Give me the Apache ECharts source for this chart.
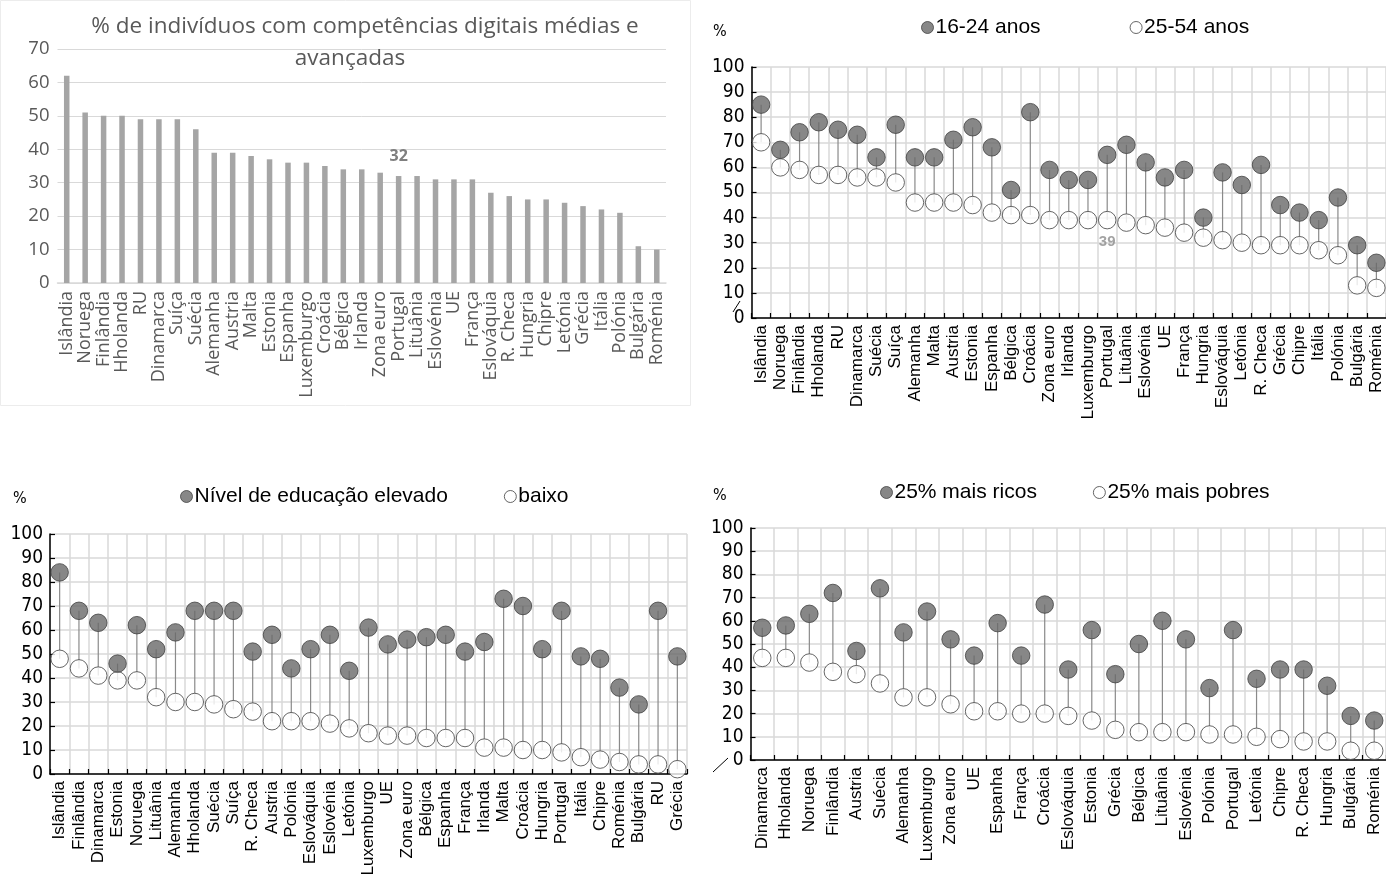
<!DOCTYPE html>
<html>
<head>
<meta charset="utf-8">
<script src="https://cdn.jsdelivr.net/npm/echarts@6/dist/echarts.min.js"></script>
<style>
html,body{margin:0;padding:0;background:#fff;}
#chart{width:1386px;height:884px;}
</style>
</head>
<body>
<div id="chart"></div>
<script>
// ---------- Panel 1: % de indivíduos com competências digitais médias e avançadas
const p1Categories = ['Islândia','Noruega','Finlândia','Hholanda','RU','Dinamarca','Suíça','Suécia','Alemanha','Austria','Malta','Estonia','Espanha','Luxemburgo','Croácia','Bélgica','Irlanda','Zona euro','Portugal','Lituânia','Eslovénia','UE','França','Eslováquia','R. Checa','Hungria','Chipre','Letónia','Grécia','Itália','Polónia','Bulgária','Roménia'];
const p1Values = [62,51,50,50,49,49,49,46,39,39,38,37,36,36,35,34,34,33,32,32,31,31,31,27,26,25,25,24,23,22,21,11,10];
const p1Title = ['% de indivíduos com competências digitais médias e', 'avançadas'];
const p1Highlight = 'Portugal';
const p1YTicks = [0,10,20,30,40,50,60,70];

// ---------- Panel 2: idade
const p2Categories = ['Islândia','Noruega','Finlândia','Hholanda','RU','Dinamarca','Suécia','Suíça','Alemanha','Malta','Austria','Estonia','Espanha','Bélgica','Croácia','Zona euro','Irlanda','Luxemburgo','Portugal','Lituânia','Eslovénia','UE','França','Hungria','Eslováquia','Letónia','R. Checa','Grécia','Chipre','Itália','Polónia','Bulgária','Roménia'];
const p2Young = [85,67,74,78,75,73,64,77,64,64,71,76,68,51,82,59,55,55,65,69,62,56,59,40,58,53,61,45,42,39,48,29,22];
const p2Adult = [70,60,59,57,57,56,56,54,46,46,46,45,42,41,41,39,39,39,39,38,37,36,34,32,31,30,29,29,29,27,25,13,12];
const p2Names = ['16-24 anos','25-54 anos'];

// ---------- Panel 3: educação
const p3Categories = ['Islândia','Finlândia','Dinamarca','Estonia','Noruega','Lituânia','Alemanha','Hholanda','Suécia','Suíça','R. Checa','Austria','Polónia','Eslováquia','Eslovénia','Letónia','Luxemburgo','UE','Zona euro','Bélgica','Espanha','França','Irlanda','Malta','Croácia','Hungria','Portugal','Itália','Chipre','Roménia','Bulgária','RU','Grécia'];
const p3High = [84,68,63,46,62,52,59,68,68,68,51,58,44,52,58,43,61,54,56,57,58,51,55,73,70,52,68,49,48,36,29,68,49];
const p3Low = [48,44,41,39,39,32,30,30,29,27,26,22,22,22,21,19,17,16,16,15,15,15,11,11,10,10,9,7,6,5,4,4,2];
const p3Names = ['Nível de educação elevado','baixo'];

// ---------- Panel 4: rendimento
const p4Categories = ['Dinamarca','Hholanda','Noruega','Finlândia','Austria','Suécia','Alemanha','Luxemburgo','Zona euro','UE','Espanha','França','Croácia','Eslováquia','Estonia','Grécia','Bélgica','Lituânia','Eslovénia','Polónia','Portugal','Letónia','Chipre','R. Checa','Hungria','Bulgária','Roménia'];
const p4Rich = [57,58,63,72,47,74,55,64,52,45,59,45,67,39,56,37,50,60,52,31,56,35,39,39,32,19,17];
const p4Poor = [44,44,42,38,37,33,27,27,24,21,21,20,20,19,17,13,12,12,12,11,11,10,9,8,8,4,4];
const p4Names = ['25% mais ricos','25% mais pobres'];

const pctTicks = [0,10,20,30,40,50,60,70,80,90,100];

// ---------- styles
const ARIAL = 'Liberation Sans, Arial, sans-serif';
const NARROW = 'Liberation Sans Narrow, DejaVu Sans Condensed, sans-serif';
const OPEN = 'Open Sans, sans-serif';
const GRIDC = '#d9d9d9';
const FILL = '#696969';
const FILLB = '#404040';
const OPENB = '#404040';

const chart = echarts.init(document.getElementById('chart'), null, {renderer:'canvas'});

const grids = [
  {left:57.5, top:49, width:608.5, height:234},
  {left:751.5, top:67, width:634.5, height:251},
  {left:50, top:534, width:637, height:240},
  {left:750.5, top:528, width:638.5, height:232}
];

function lollipopX(idx, cats){
  return {
    type:'category', gridIndex:idx, data:cats, boundaryGap:true,
    axisLine:{show:true, lineStyle:{color:'#000', width:1.5}},
    axisTick:{show:true, inside:true, length:5, alignWithLabel:false, interval:0, lineStyle:{color:'#000', width:1.2}},
    axisLabel:{interval:0, rotate:90, margin:7, fontFamily:ARIAL, fontSize:17, color:'#000'},
    splitLine:{show:true, interval:0, lineStyle:{color:GRIDC, width:1.5}}
  };
}
function lollipopY(idx){
  return {
    type:'value', gridIndex:idx, min:0, max:100, interval:10,
    axisLine:{show:true, lineStyle:{color:'#000', width:1.5}},
    axisTick:{show:true, inside:true, length:5, lineStyle:{color:'#000', width:1.2}},
    axisLabel:{margin:7, fontFamily:NARROW, fontSize:19, color:'#000',
      formatter:(v)=> pctTicks.indexOf(v) >= 0 ? String(v) : ''},
    splitLine:{show:true, lineStyle:{color:GRIDC, width:1.5}}
  };
}
function connector(idx, cats, hi, lo){
  return {
    type:'custom', xAxisIndex:idx, yAxisIndex:idx, z:1, silent:true,
    data: cats.map((c,i)=>[i, hi[i], lo[i]]),
    renderItem:(params, api)=>{
      const a = api.coord([api.value(0), api.value(1)]);
      const b = api.coord([api.value(0), api.value(2)]);
      return {type:'line', shape:{x1:a[0], y1:a[1], x2:b[0], y2:b[1]},
        style:{stroke:'#8a8a8a', lineWidth:1.2}};
    }
  };
}
function dots(idx, name, vals, filled, labelIdx, labelOpt){
  return {
    type:'scatter', name:name, xAxisIndex:idx, yAxisIndex:idx, z:filled?4:3,
    symbol:'circle', symbolSize:17.5, clip:false,
    itemStyle: filled ? {color:FILL, borderColor:FILLB, borderWidth:1}
                      : {color:'#fff', borderColor:OPENB, borderWidth:1},
    data: vals.map((v,i)=> (labelIdx === i) ? {value:v, label:labelOpt} : v)
  };
}
function legendFor(names, left, top, gap){
  return {
    data:names, left:left, top:top, orient:'horizontal', itemGap:gap,
    icon:'circle', itemWidth:12, itemHeight:12, itemStyle:{borderWidth:1},
    textStyle:{fontFamily:ARIAL, fontSize:21, color:'#000', padding:[0,0,0,-3]},
    selectedMode:false
  };
}

const p1HighIdx = p1Categories.indexOf(p1Highlight);
const p2HighIdx = p2Categories.indexOf('Portugal');

const option = {
  animation:false,
  backgroundColor:'#fff',
  title:[
    {text:p1Title[0], left:360, top:10, textAlign:'center',
     textStyle:{fontFamily:OPEN, fontSize:22.5, fontWeight:'normal', color:'#595959'}},
    {text:p1Title[1], left:345, top:42, textAlign:'center',
     textStyle:{fontFamily:OPEN, fontSize:22.5, fontWeight:'normal', color:'#595959'}}
  ],
  legend:[
    legendFor(p2Names, 916, 12, 89),
    legendFor(p3Names, 175, 481, 56),
    legendFor(p4Names, 875, 477, 56)
  ],
  grid:grids,
  xAxis:[
    {type:'category', gridIndex:0, data:p1Categories, boundaryGap:true,
     axisLine:{show:true, lineStyle:{color:GRIDC, width:1.5}},
     axisTick:{show:false},
     axisLabel:{interval:0, rotate:90, margin:8, fontFamily:OPEN, fontSize:18, color:'#595959'},
     splitLine:{show:false}},
    lollipopX(1, p2Categories),
    lollipopX(2, p3Categories),
    lollipopX(3, p4Categories)
  ],
  yAxis:[
    {type:'value', gridIndex:0, min:0, max:70, interval:10,
     axisLine:{show:false}, axisTick:{show:false},
     axisLabel:{margin:8, fontFamily:OPEN, fontSize:18.5, color:'#595959',
       formatter:(v)=> p1YTicks.indexOf(v) >= 0 ? String(v) : ''},
     splitLine:{show:true, lineStyle:{color:GRIDC, width:1}}},
    lollipopY(1), lollipopY(2), lollipopY(3)
  ],
  series:[
    {type:'bar', xAxisIndex:0, yAxisIndex:0, barWidth:5.5,
     itemStyle:{color:'#a5a5a5'},
     data:p1Values.map((v,i)=> i===p1HighIdx ? {value:v, label:{show:true, position:'top', distance:12,
        fontFamily:OPEN, fontWeight:'bold', fontSize:16, color:'#7f7f7f'}} : v)},

    connector(1, p2Categories, p2Young, p2Adult),
    dots(1, p2Names[0], p2Young, true),
    dots(1, p2Names[1], p2Adult, false, p2HighIdx, {show:true, position:'bottom', distance:5,
        fontFamily:ARIAL, fontWeight:'bold', fontSize:15, color:'#8c8c8c'}),

    connector(2, p3Categories, p3High, p3Low),
    dots(2, p3Names[0], p3High, true),
    dots(2, p3Names[1], p3Low, false),

    connector(3, p4Categories, p4Rich, p4Poor),
    dots(3, p4Names[0], p4Rich, true),
    dots(3, p4Names[1], p4Poor, false)
  ],
  graphic:[
    {type:'rect', shape:{x:0.5, y:0.5, width:690, height:405}, style:{fill:'none', stroke:'#ececec', lineWidth:1}, silent:true, z:-10},
    {type:'text', left:713, top:24, style:{text:'%', font:'16px ' + NARROW, fill:'#000'}},
    {type:'text', left:13, top:491, style:{text:'%', font:'16px ' + NARROW, fill:'#000'}},
    {type:'text', left:713, top:488, style:{text:'%', font:'16px ' + NARROW, fill:'#000'}},
    {type:'line', shape:{x1:733, y1:312, x2:740, y2:301}, style:{stroke:'#000', lineWidth:1}},
    {type:'line', shape:{x1:713, y1:772, x2:728, y2:758}, style:{stroke:'#000', lineWidth:1}}
  ]
};

chart.setOption(option);
</script>
</body>
</html>
